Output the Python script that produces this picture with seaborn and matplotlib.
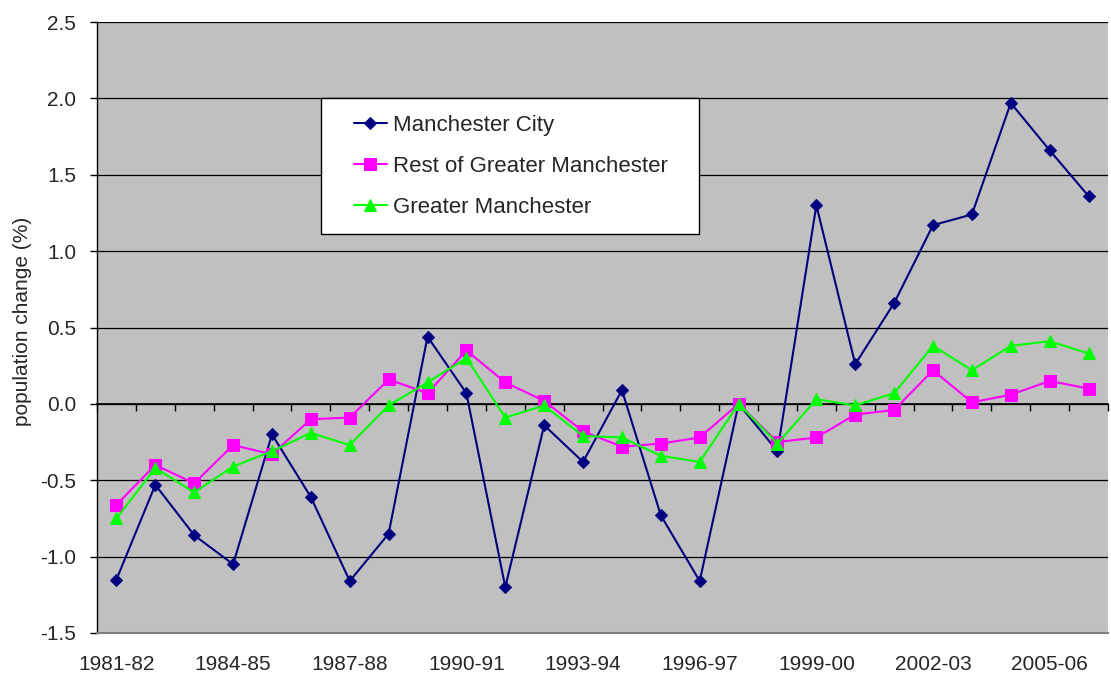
import matplotlib
matplotlib.use("Agg")
import matplotlib.pyplot as plt
import seaborn as sns
import numpy as np
import pandas as pd
from matplotlib.legend_handler import HandlerLine2D
from matplotlib.lines import Line2D
from matplotlib.ticker import MultipleLocator, FixedLocator, StrMethodFormatter

# data
years = ["1981-82", "1982-83", "1983-84", "1984-85", "1985-86", "1986-87",
         "1987-88", "1988-89", "1989-90", "1990-91", "1991-92", "1992-93",
         "1993-94", "1994-95", "1995-96", "1996-97", "1997-98", "1998-99",
         "1999-00", "2000-01", "2001-02", "2002-03", "2003-04", "2004-05",
         "2005-06", "2006-07"]

manchester_city = [-1.15, -0.53, -0.86, -1.05, -0.20, -0.61, -1.16, -0.85, 0.44,
                   0.07, -1.20, -0.14, -0.38, 0.09, -0.73, -1.16, 0.00, -0.31,
                   1.30, 0.26, 0.66, 1.17, 1.24, 1.97, 1.66, 1.36]
rest_of_gm = [-0.66, -0.40, -0.52, -0.27, -0.33, -0.10, -0.09, 0.16, 0.07,
              0.35, 0.14, 0.02, -0.18, -0.28, -0.26, -0.22, 0.00, -0.25,
              -0.22, -0.07, -0.04, 0.22, 0.01, 0.06, 0.15, 0.10]
greater_manchester = [-0.75, -0.42, -0.58, -0.41, -0.31, -0.19, -0.27, -0.01, 0.14,
                      0.30, -0.09, -0.01, -0.21, -0.22, -0.34, -0.38, 0.00, -0.26,
                      0.03, -0.01, 0.07, 0.38, 0.22, 0.38, 0.41, 0.33]

label_years = years[::3]

sns.set_theme(style="white")
plt.rcParams["font.family"] = ["Liberation Sans", "DejaVu Sans"]
plt.rcParams["axes.unicode_minus"] = False

fig = plt.figure(figsize=(11.11, 6.75), dpi=100)
ax = fig.add_axes([97 / 1111, 1 - 633 / 675, 1011 / 1111, 611 / 675])
ax.set_facecolor("#C0C0C0")

x = np.arange(len(years))
series = [
    ("Manchester City", manchester_city, "#000080", "D", 6),
    ("Rest of Greater Manchester", rest_of_gm, "#FF00FF", "s", 8),
    ("Greater Manchester", greater_manchester, "#00FF00", "^", 8),
]
for name, vals, col, mk, ms in series:
    sns.lineplot(x=x, y=vals, ax=ax, color=col, marker=mk, markersize=ms,
                 markeredgecolor=col, linewidth=1.5, label=name)

ax.set_xlim(-0.5, len(years) - 0.5)
ax.set_ylim(-1.5, 2.5)

# y axis
ax.yaxis.set_major_locator(MultipleLocator(0.5))
ax.yaxis.set_major_formatter(StrMethodFormatter("{x:.1f}"))
ax.grid(axis="y", color="black", linewidth=0.9)
ax.set_axisbelow(True)
ax.tick_params(axis="y", direction="out", length=5, width=1, color="black",
               labelsize=15, pad=10, left=True)
ax.set_ylabel("population change (%)", fontsize=15)
ax.yaxis.set_label_coords(-0.064, 0.51)

# x axis labels at the bottom
ax.set_xticks(x[::3])
ax.set_xticklabels(label_years)
ax.tick_params(axis="x", length=0, labelsize=15, pad=16)
ax.set_xlabel("")

# category axis crossing at zero, ticks between categories
zero_ax = ax.secondary_xaxis(1.5 / 4.0)
zero_ax.xaxis.set_major_locator(FixedLocator(np.arange(len(years) + 1) - 0.5))
zero_ax.tick_params(direction="out", length=5, width=1, color="black",
                    labelbottom=False, labeltop=False)
zero_ax.spines["bottom"].set_color("black")
zero_ax.spines["bottom"].set_linewidth(1.2)

for side in ["top", "right"]:
    ax.spines[side].set_visible(False)
ax.spines["left"].set_color("black")
ax.spines["left"].set_linewidth(1.0)
ax.spines["bottom"].set_color("#808080")
ax.spines["bottom"].set_linewidth(1.5)

# legend: fixed width box, handles pushed in from the frame edge
leg = ax.legend(loc="upper left", bbox_to_anchor=(0.2216, 0.5, 0.3739, 0.3756),
                mode="expand", frameon=True, fancybox=False, edgecolor="black",
                facecolor="white", framealpha=1, fontsize=16, handlelength=2.2,
                labelspacing=0.9, borderpad=0.75, borderaxespad=0,
                handletextpad=0.27, handler_map={Line2D: HandlerLine2D(xpad=0.73)})
leg.get_frame().set_linewidth(1.0)

fig.savefig("out.png", dpi=100)
